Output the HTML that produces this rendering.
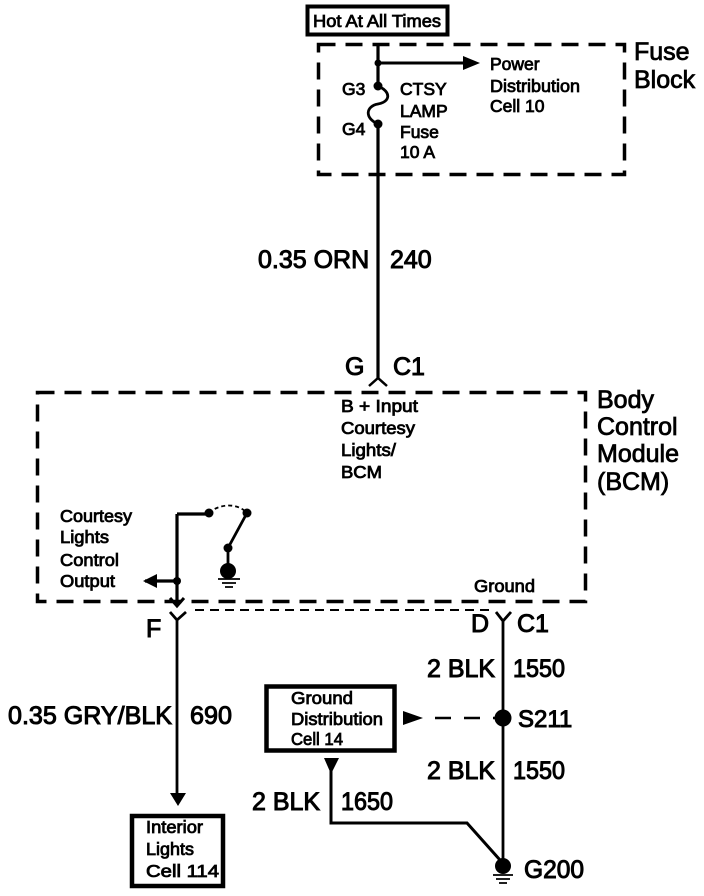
<!DOCTYPE html>
<html>
<head>
<meta charset="utf-8">
<style>
html,body{margin:0;padding:0;background:#fff}
svg{display:block}
text{font-family:"Liberation Sans",sans-serif;fill:#000;stroke:#000}
.s{font-size:17.500px;stroke-width:.8px}
.l{font-size:25px;stroke-width:1px}
.b{font-size:25px;stroke-width:.8px}
</style>
</head>
<body>
<svg width="704" height="896" viewBox="0 0 704 896" xmlns="http://www.w3.org/2000/svg">
<g fill="none" stroke="#000">
  <rect x="307.500" y="6.500" width="140" height="28" stroke-width="4"/>
  <rect x="318.500" y="44.500" width="306" height="130" stroke-width="3.500" stroke-dasharray="17 10"/>
  <rect x="37.500" y="392.500" width="548" height="209" stroke-width="3.500" stroke-dasharray="17 10"/>
  <rect x="266.500" y="686.500" width="128" height="64" stroke-width="4.500"/>
  <rect x="132" y="816" width="91" height="70" stroke-width="4.500"/>
  <path d="M378 44V86M378 124V379" stroke-width="3.200"/>
  <path d="M378 63H468" stroke-width="3"/>
  <path d="M378 86C392 92 390 102 378 104C366 106 364 118 378 124" stroke-width="2.800"/>
  <path d="M369 386L378 378L387 386" stroke-width="2.500"/>
  <path d="M177 514H209M177 514V604M145 581H177" stroke-width="3.200"/>
  <path d="M170 598L177 606L184 598" stroke-width="3"/>
  <path d="M170 612L177 620L186 612M177 620V795" stroke-width="2.800"/>
  <path d="M195 610H495" stroke-width="2" stroke-dasharray="9 6"/>
  <path d="M209 513C220 503 238 503 247 513" stroke-width="1.800" stroke-dasharray="4 3"/>
  <path d="M247 513L228 548V570" stroke-width="2.800"/>
  <path d="M496 612L503 621L511 612M503 621V862" stroke-width="2.800"/>
  <path d="M424 718H500" stroke-width="2.500" stroke-dasharray="0 11 16 13 16 13 16"/>
  <path d="M331 770V823H467L500 860" stroke-width="3"/>
  <path d="M218 579H240M222 583H236M225 587H233" stroke-width="1.800"/>
  <path d="M493 875H513M496 879H510M499 883H507" stroke-width="1.800"/>
</g>
<g fill="#000">
  <circle cx="378" cy="63" r="3.500"/>
  <circle cx="378" cy="86" r="4.500"/>
  <circle cx="378" cy="124" r="4.500"/>
  <path d="M463 56L480 63L463 70Z"/>
  <circle cx="209" cy="513" r="4.500"/>
  <circle cx="247" cy="513" r="4.500"/>
  <circle cx="228" cy="548" r="4.500"/>
  <circle cx="228" cy="571" r="8"/>
  <circle cx="177" cy="581" r="4"/>
  <path d="M143 581L157 574V588Z"/>
  <path d="M170 793H186L178 806Z"/>
  <path d="M403 711L423 718L403 725Z"/>
  <circle cx="503" cy="718" r="8.500"/>
  <path d="M324 758H339L331 774Z"/>
  <circle cx="503" cy="866" r="8"/>
</g>
<text class="s" x="313" y="27" textLength="128" lengthAdjust="spacingAndGlyphs">Hot At All Times</text>
<text class="s" x="490" y="70">Power</text>
<text class="s" x="490" y="92" textLength="90" lengthAdjust="spacingAndGlyphs">Distribution</text>
<text class="s" x="490" y="112">Cell 10</text>
<text class="s" x="342" y="95">G3</text>
<text class="s" x="342" y="135">G4</text>
<text class="s" x="400" y="95">CTSY</text>
<text class="s" x="400" y="117">LAMP</text>
<text class="s" x="400" y="138">Fuse</text>
<text class="s" x="400" y="158">10 A</text>
<text class="b" x="634" y="60">Fuse</text>
<text class="b" x="634" y="88">Block</text>
<text class="l" x="258" y="268">0.35 ORN</text>
<text class="l" x="390" y="268">240</text>
<text class="l" x="345" y="375">G</text>
<text class="l" x="393" y="375">C1</text>
<text class="s" x="341" y="412" textLength="77" lengthAdjust="spacingAndGlyphs">B + Input</text>
<text class="s" x="341" y="434" textLength="74" lengthAdjust="spacingAndGlyphs">Courtesy</text>
<text class="s" x="341" y="456" textLength="55" lengthAdjust="spacingAndGlyphs">Lights/</text>
<text class="s" x="341" y="478" textLength="41" lengthAdjust="spacingAndGlyphs">BCM</text>
<text class="b" x="597" y="408">Body</text>
<text class="b" x="597" y="435">Control</text>
<text class="b" x="597" y="462">Module</text>
<text class="b" x="597" y="490">(BCM)</text>
<text class="s" x="60" y="522" textLength="72" lengthAdjust="spacingAndGlyphs">Courtesy</text>
<text class="s" x="60" y="543" textLength="49" lengthAdjust="spacingAndGlyphs">Lights</text>
<text class="s" x="60" y="566" textLength="59" lengthAdjust="spacingAndGlyphs">Control</text>
<text class="s" x="60" y="587" textLength="55" lengthAdjust="spacingAndGlyphs">Output</text>
<text class="s" x="474" y="592" textLength="61" lengthAdjust="spacingAndGlyphs">Ground</text>
<text class="l" x="146" y="637">F</text>
<text class="l" x="471" y="632">D</text>
<text class="l" x="517" y="632">C1</text>
<text class="l" x="427" y="677" textLength="68" lengthAdjust="spacingAndGlyphs">2 BLK</text>
<text class="l" x="513" y="677" textLength="52" lengthAdjust="spacingAndGlyphs">1550</text>
<text class="l" x="518" y="727" style="font-size:24px">S211</text>
<text class="l" x="427" y="779" textLength="68" lengthAdjust="spacingAndGlyphs">2 BLK</text>
<text class="l" x="513" y="779" textLength="52" lengthAdjust="spacingAndGlyphs">1550</text>
<text class="l" x="8" y="724" textLength="164" lengthAdjust="spacingAndGlyphs">0.35 GRY/BLK</text>
<text class="l" x="190" y="724" textLength="42" lengthAdjust="spacingAndGlyphs">690</text>
<text class="l" x="252" y="810" textLength="68" lengthAdjust="spacingAndGlyphs">2 BLK</text>
<text class="l" x="341" y="810" textLength="52" lengthAdjust="spacingAndGlyphs">1650</text>
<text class="l" x="524" y="878" textLength="60" lengthAdjust="spacingAndGlyphs">G200</text>
<text class="s" x="291" y="704" textLength="62" lengthAdjust="spacingAndGlyphs">Ground</text>
<text class="s" x="291" y="725" textLength="92" lengthAdjust="spacingAndGlyphs">Distribution</text>
<text class="s" x="291" y="745" textLength="52" lengthAdjust="spacingAndGlyphs">Cell 14</text>
<text class="s" x="146" y="833" textLength="57" lengthAdjust="spacingAndGlyphs">Interior</text>
<text class="s" x="146" y="855" textLength="48" lengthAdjust="spacingAndGlyphs">Lights</text>
<text class="s" x="146" y="877" textLength="73" lengthAdjust="spacingAndGlyphs">Cell 114</text>
</svg>
</body>
</html>
